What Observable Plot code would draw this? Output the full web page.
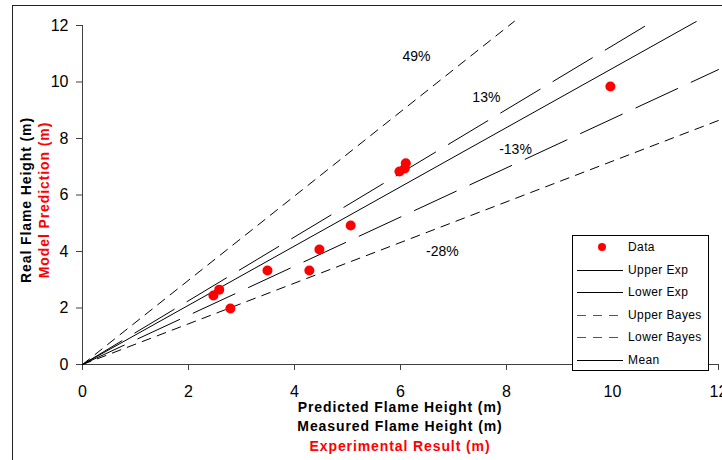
<!DOCTYPE html>
<html><head><meta charset="utf-8">
<script src="https://cdn.jsdelivr.net/npm/d3@7"></script>
<script src="https://cdn.jsdelivr.net/npm/@observablehq/plot@0.6"></script>
<style>
body{margin:0;background:#fff;font-family:"Liberation Sans",Arial,sans-serif;}
#wrap{position:relative;width:722px;height:460px;overflow:hidden;background:#fff;}
#chart{position:absolute;left:0;top:0;}
#frame{position:absolute;left:12px;top:5px;width:800px;height:600px;border:1.5px solid #222;box-sizing:border-box;pointer-events:none;}
.xt{position:absolute;left:400px;transform:translateX(-50%);white-space:nowrap;font-weight:bold;font-size:14px;line-height:14px;letter-spacing:0.9px;}
.yt{position:absolute;top:200px;transform:translate(-50%,-50%) rotate(-90deg);white-space:nowrap;font-weight:bold;font-size:14px;line-height:14px;letter-spacing:0.9px;}
#legend{position:absolute;left:572px;top:235px;width:137px;height:136px;border:1px solid #000;background:#fff;box-sizing:border-box;}
#legend .row{position:absolute;left:0;width:135px;height:20px;}
#legend svg{position:absolute;left:4px;top:0;}
#legend span{position:absolute;left:55px;top:3px;font-size:12px;line-height:14px;letter-spacing:0.4px;white-space:nowrap;}
</style></head><body>
<div id="wrap">
<div id="chart"></div>
<div class="yt" style="left:26px;color:#000">Real Flame Height (m)</div>
<div class="yt" style="left:44px;color:#ff0000">Model Prediction (m)</div>
<div class="xt" style="top:400px;color:#000">Predicted Flame Height (m)</div>
<div class="xt" style="top:419px;color:#000">Measured Flame Height (m)</div>
<div class="xt" style="top:439px;color:#ff0000">Experimental Result (m)</div>
<div id="legend"></div>
<div id="frame"></div>
</div>
<script>
// Data points (predicted vs measured)
const dataX = [2.47, 2.58, 2.79, 3.49, 4.28, 4.47, 5.06, 5.98, 6.08, 6.10, 9.96];
const dataY = [2.44, 2.65, 1.98, 3.33, 3.33, 4.07, 4.92, 6.83, 6.94, 7.12, 9.84];

// Reference lines (from origin to the end point)
const lineNames = ["Upper Bayes", "Upper Exp", "Mean", "Lower Exp", "Lower Bayes"];
const lineEndX = [8.15, 10.74, 11.58, 12.0, 12.1];
const lineEndY = [12.15, 12.12, 12.14, 10.44, 8.71];

// Percentage labels
const labelText = ["49%", "13%", "-13%", "-28%"];
const labelX = [6.30, 7.62, 8.17, 6.79];
const labelY = [10.9, 9.45, 7.61, 4.0];

// Ticks
const xTicks = [0, 2, 4, 6, 8, 10, 12];
const yTicks = [0, 2, 4, 6, 8, 10, 12];

// Legend entries
const legendNames = ["Data", "Upper Exp", "Lower Exp", "Upper Bayes", "Lower Bayes", "Mean"];

const dashStyle = {"Upper Bayes": "9,7", "Lower Bayes": "9,7", "Upper Exp": "46,15", "Lower Exp": "46,15", "Mean": null};

const points = dataX.map((x, i) => ({x, y: dataY[i]}));
const labels = labelText.map((t, i) => ({t, x: labelX[i], y: labelY[i]}));

const lineMarks = lineNames.map((name, i) =>
  Plot.line([{x: 0, y: 0}, {x: lineEndX[i], y: lineEndY[i]}], {
    x: "x", y: "y", stroke: "#000", strokeWidth: 1,
    strokeDasharray: dashStyle[name] || undefined
  })
);

const chart = Plot.plot({
  width: 722, height: 400,
  marginLeft: 82, marginRight: 4, marginTop: 25, marginBottom: 36,
  x: {domain: [0, 12]},
  y: {domain: [0, 12]},
  style: {fontFamily: "Liberation Sans, Arial, sans-serif", background: "transparent", color: "#000", overflow: "visible"},
  marks: [
    Plot.axisX({ticks: xTicks, tickSize: 6, tickPadding: 15, fontSize: 16, stroke: "#404040", fill: "#000", label: null, tickFormat: d => String(d)}),
    Plot.axisY({ticks: yTicks, tickSize: 6, tickPadding: 8, fontSize: 16, stroke: "#404040", fill: "#000", label: null, tickFormat: d => String(d)}),
    Plot.ruleY([0], {x1: 0, x2: 12, stroke: "#404040", strokeWidth: 1}),
    Plot.ruleX([0], {y1: 0, y2: 12, stroke: "#404040", strokeWidth: 1}),
    ...lineMarks,
    Plot.text(labels, {x: "x", y: "y", text: "t", fontSize: 14, fill: "#000"}),
    Plot.dot(points, {x: "x", y: "y", r: 5, fill: "#ff0000", stroke: "none"})
  ]
});
document.getElementById("chart").appendChild(chart);

// Legend
const legend = document.getElementById("legend");
legendNames.forEach((name, i) => {
  const row = document.createElement("div");
  row.className = "row";
  row.style.top = (1 + i * 22.6) + "px";
  let sample;
  if (name === "Data") {
    sample = `<svg width="50" height="20"><circle cx="25" cy="10" r="4" fill="#ff0000"/></svg>`;
  } else {
    const d = dashStyle[name];
    sample = `<svg width="50" height="20"><line x1="0" x2="46" y1="10.5" y2="10.5" stroke="${d && d.startsWith('9') ? '#555' : '#000'}" stroke-width="1" ${d ? `stroke-dasharray="${d}"` : ""}/></svg>`;
  }
  row.innerHTML = sample + `<span>${name}</span>`;
  legend.appendChild(row);
});
</script>
</body></html>
